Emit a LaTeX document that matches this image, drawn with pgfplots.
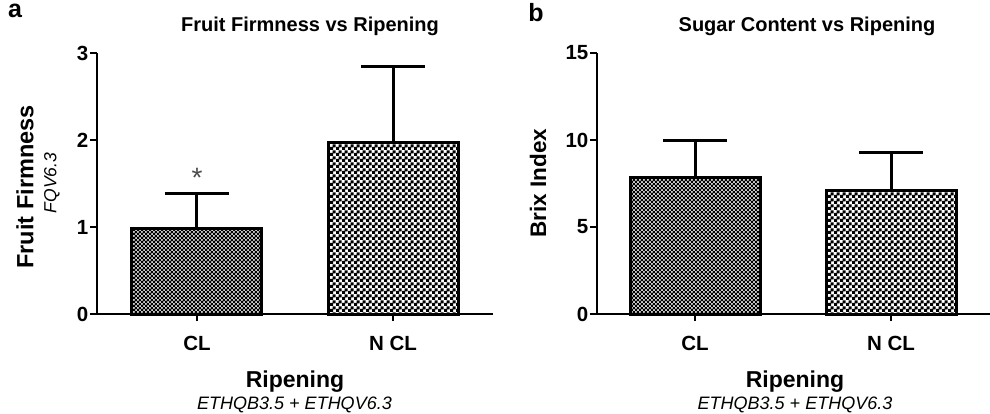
\documentclass[border=0pt]{standalone}
\usepackage{pgfplots}
\pgfplotsset{compat=1.18}
\usepackage{fontspec}
\setmainfont{Liberation Sans}
\usetikzlibrary{patterns}

\pgfdeclarepatternformonly{finecheck}{\pgfpointorigin}{\pgfqpoint{3.8pt}{3.8pt}}{\pgfqpoint{3.8pt}{3.8pt}}{%
  \pgfpathrectangle{\pgfpointorigin}{\pgfqpoint{2.1pt}{2.1pt}}%
  \pgfpathrectangle{\pgfqpoint{1.9pt}{1.9pt}}{\pgfqpoint{2.1pt}{2.1pt}}%
  \pgfusepath{fill}}
\pgfdeclarepatternformonly{coarsecheck}{\pgfpointorigin}{\pgfqpoint{6pt}{6pt}}{\pgfqpoint{6pt}{6pt}}{%
  \pgfpathrectangle{\pgfpointorigin}{\pgfqpoint{3.5pt}{3.5pt}}%
  \pgfpathrectangle{\pgfqpoint{3pt}{3pt}}{\pgfqpoint{3.5pt}{3.5pt}}%
  \pgfusepath{fill}}

\pgfplotsset{
  panel/.style={
    scale only axis, height=261pt,
    ymin=0,
    axis x line*=bottom, axis y line*=left,
    axis line style={line width=2pt, black},
    every tick/.style={line width=2pt, black},
    tick align=outside, major tick length=7pt,
    xtick={0,1}, xticklabels={CL,N CL},
    ybar, bar shift=0pt, bar width=130pt,
    tick label style={font=\fontsize{20.5}{23}\selectfont\bfseries},
    /pgf/number format/assume math mode=true,
    xticklabel style={yshift=-12pt},
    yticklabel style={inner sep=1.5pt},
    clip=false,
  },
  eb/.style={
    error bars/.cd, y dir=plus, y explicit, error mark=|,
    error bar style={line width=3pt, black},
    error mark options={line width=3pt, mark size=32pt, black},
  },
}

\begin{document}
\begin{tikzpicture}
\useasboundingbox (0,0) rectangle (990pt,413pt);

% Panel a
\begin{axis}[panel, at={(97pt,99pt)}, anchor=south west, width=396pt,
  xmin=-0.51, xmax=1.51, ymax=3, ytick={0,1,2,3}]
\addplot[draw=black, line width=3pt, fill=gray!40, postaction={pattern=finecheck}, eb]
  coordinates {(0,0.98) +- (0,0.41)};
\addplot[draw=black, line width=3pt, fill=white, postaction={pattern=coarsecheck}, eb]
  coordinates {(1,1.97) +- (0,0.87)};
\node[font=\fontsize{28}{30}\selectfont, text=black!70] at (axis cs:0,1.57) {*};
\end{axis}

% Panel b
\begin{axis}[panel, at={(597pt,99pt)}, anchor=south west, width=393pt,
  xmin=-0.5, xmax=1.505, ymax=15, ytick={0,5,10,15}]
\addplot[draw=black, line width=3pt, fill=gray!40, postaction={pattern=finecheck}, eb]
  coordinates {(0,7.87) +- (0,2.13)};
\addplot[draw=black, line width=3pt, fill=white, postaction={pattern=coarsecheck}, eb]
  coordinates {(1,7.07) +- (0,2.24)};
\end{axis}

% panel letters
\node[font=\fontsize{25}{28}\selectfont\bfseries, anchor=base] at (15pt,395pt) {a};
\node[font=\fontsize{25}{28}\selectfont\bfseries, anchor=base] at (536pt,391pt) {b};

% titles
\node[font=\fontsize{20}{24}\selectfont\bfseries, anchor=base] at (310pt,381pt) {Fruit Firmness vs Ripening};
\node[font=\fontsize{20}{24}\selectfont\bfseries, anchor=base] at (807pt,381pt) {Sugar Content vs Ripening};

% y labels
\node[font=\fontsize{23.5}{26}\selectfont\bfseries, rotate=90] at (25pt,226pt) {Fruit Firmness};
\node[font=\fontsize{17.5}{20}\selectfont\itshape, rotate=90] at (52pt,230pt) {FQV6.3};
\node[font=\fontsize{22.5}{26}\selectfont\bfseries, rotate=90] at (538pt,230pt) {Brix Index};

% x labels
\node[font=\fontsize{23}{26}\selectfont\bfseries, anchor=base] at (295pt,26pt) {Ripening};
\node[font=\fontsize{18}{20}\selectfont\itshape, anchor=base] at (294.5pt,4pt) {ETHQB3.5 + ETHQV6.3};
\node[font=\fontsize{23}{26}\selectfont\bfseries, anchor=base] at (795pt,26pt) {Ripening};
\node[font=\fontsize{18}{20}\selectfont\itshape, anchor=base] at (795pt,4pt) {ETHQB3.5 + ETHQV6.3};
\end{tikzpicture}
\end{document}
